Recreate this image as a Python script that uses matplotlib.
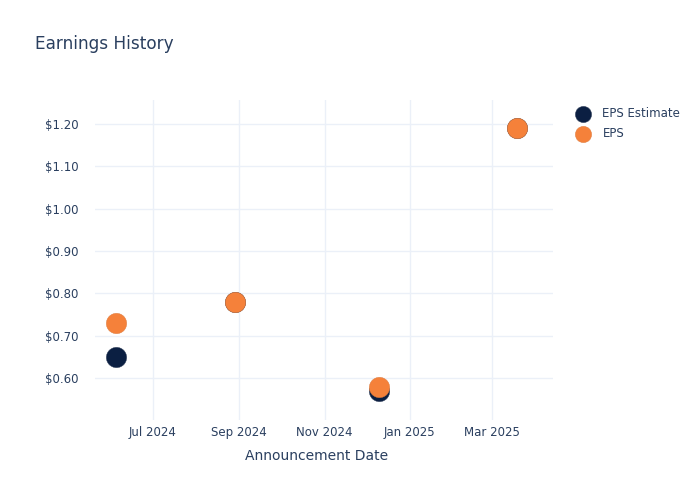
import matplotlib
matplotlib.use("Agg")
import matplotlib.pyplot as plt
import matplotlib.dates as mdates
import pandas as pd

dates = ["2024-06-05", "2024-08-29", "2024-12-10", "2025-03-19"]
eps_estimate = [0.65, 0.78, 0.57, 1.19]
eps_actual = [0.73, 0.78, 0.58, 1.19]
series_names = ["EPS Estimate", "EPS"]
title = "Earnings History"
x_title = "Announcement Date"

text_color = "#2a3f5f"
grid_color = "#ebf0f8"
c_est = "#0b1f42"
c_eps = "#f5813a"

plt.rcParams['font.family'] = ['DejaVu Sans']
x = pd.to_datetime(dates)

fig = plt.figure(figsize=(7, 5), dpi=100)
ax = fig.add_axes([95/700, 80/500, (553-95)/700, 320/500])

ax.scatter(x, eps_estimate, s=215, color=c_est, edgecolor="#33415c", linewidth=0.3, zorder=3, label=series_names[0])
ax.scatter(x, eps_actual, s=215, color=c_eps, edgecolor="#d9773a", linewidth=0.3, zorder=4, label=series_names[1])

ax.set_xlim(pd.Timestamp("2024-05-20 17:00"), pd.Timestamp("2025-04-13 10:00"))
ax.set_ylim(0.5014, 1.2567)

ax.xaxis.set_major_locator(mdates.MonthLocator(bymonth=[1, 3, 5, 7, 9, 11]))
ax.xaxis.set_major_formatter(mdates.DateFormatter("%b %Y"))
yt = [0.6, 0.7, 0.8, 0.9, 1.0, 1.1, 1.2]
ax.set_yticks(yt)
ax.set_yticklabels([f"${v:.2f}" for v in yt])

for s in ax.spines.values():
    s.set_visible(False)
ax.grid(True, color=grid_color, linewidth=1, zorder=0)
ax.set_axisbelow(True)
ax.tick_params(axis='both', length=0, labelsize=8.5, colors=text_color)
ax.tick_params(axis='x', pad=4)
ax.tick_params(axis='y', pad=12)

fig.text(35/700, 1-44/500, title, fontsize=12.2, color=text_color, va='center', ha='left')
fig.text(317/700, 1-456/500, x_title, fontsize=10, color=text_color, va='center', ha='center')

leg = fig.legend(loc='upper left', bbox_to_anchor=(570/700, 1-102/500), frameon=False,
                 fontsize=8.5, labelcolor=text_color, handletextpad=0.95, labelspacing=0.6,
                 markerscale=0.8, borderaxespad=0, handlelength=1.4)

fig.savefig("out.png", dpi=100)
